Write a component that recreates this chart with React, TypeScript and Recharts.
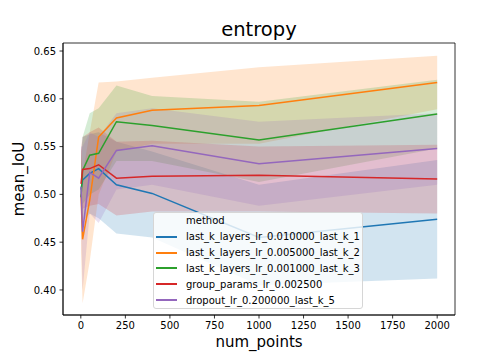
import {
  Area,
  ComposedChart,
  Label,
  Legend,
  Line,
  ReferenceArea,
  XAxis,
  YAxis,
} from "recharts";

const FONT = "DejaVu Sans, sans-serif";

const X_POINTS = [1, 10, 50, 100, 200, 400, 1000, 2000];
const X_TICKS = [0, 250, 500, 750, 1000, 1250, 1500, 1750, 2000];
const Y_TICKS = [0.4, 0.45, 0.5, 0.55, 0.6, 0.65];

// last_k_layers_lr_0.010000_last_k_1
const K1_MEAN = [0.505, 0.515, 0.522, 0.527, 0.51, 0.501, 0.455, 0.474];
const K1_LO = [0.47, 0.472, 0.48, 0.475, 0.459, 0.455, 0.405, 0.412];
const K1_HI = [0.545, 0.56, 0.563, 0.565, 0.555, 0.545, 0.51, 0.536];

// last_k_layers_lr_0.005000_last_k_2
const K2_MEAN = [0.5, 0.453, 0.494, 0.56, 0.58, 0.588, 0.593, 0.617];
const K2_LO = [0.44, 0.386, 0.43, 0.5, 0.545, 0.553, 0.553, 0.589];
const K2_HI = [0.56, 0.52, 0.565, 0.617, 0.618, 0.622, 0.633, 0.645];

// last_k_layers_lr_0.001000_last_k_3
const K3_MEAN = [0.497, 0.525, 0.541, 0.543, 0.576, 0.572, 0.557, 0.584];
const K3_LO = [0.47, 0.49, 0.5, 0.505, 0.535, 0.535, 0.513, 0.548];
const K3_HI = [0.53, 0.56, 0.585, 0.59, 0.614, 0.603, 0.597, 0.62];

// group_params_lr_0.002500
const GP_MEAN = [0.511, 0.526, 0.527, 0.531, 0.517, 0.519, 0.52, 0.516];
const GP_LO = [0.475, 0.485, 0.488, 0.49, 0.478, 0.482, 0.482, 0.48];
const GP_HI = [0.545, 0.56, 0.565, 0.57, 0.555, 0.556, 0.55, 0.552];

// dropout_lr_0.200000_last_k_5
const DO_MEAN = [0.508, 0.461, 0.523, 0.517, 0.546, 0.551, 0.532, 0.548];
const DO_LO = [0.47, 0.4, 0.48, 0.47, 0.505, 0.51, 0.488, 0.51];
const DO_HI = [0.55, 0.55, 0.565, 0.56, 0.585, 0.59, 0.576, 0.585];

const SERIES = [
  { key: "k1", name: "last_k_layers_lr_0.010000_last_k_1", color: "#1f77b4", mean: K1_MEAN, lo: K1_LO, hi: K1_HI },
  { key: "k2", name: "last_k_layers_lr_0.005000_last_k_2", color: "#ff7f0e", mean: K2_MEAN, lo: K2_LO, hi: K2_HI },
  { key: "k3", name: "last_k_layers_lr_0.001000_last_k_3", color: "#2ca02c", mean: K3_MEAN, lo: K3_LO, hi: K3_HI },
  { key: "gp", name: "group_params_lr_0.002500", color: "#d62728", mean: GP_MEAN, lo: GP_LO, hi: GP_HI },
  { key: "do", name: "dropout_lr_0.200000_last_k_5", color: "#9467bd", mean: DO_MEAN, lo: DO_LO, hi: DO_HI },
];

const data = X_POINTS.map((x, i) => {
  const row: Record<string, number | [number, number]> = { x };
  SERIES.forEach((s) => {
    row[s.key] = s.mean[i];
    row[s.key + "Band"] = [s.lo[i], s.hi[i]];
  });
  return row;
});

const X_DOMAIN: [number, number] = [-100, 2100];
const Y_DOMAIN: [number, number] = [0.3738, 0.6584];

const tickStyle = { fontSize: 10, fill: "#000", fontFamily: FONT };

/** seaborn-style legend: "method" header row, then one line handle per series. */
function MethodLegend() {
  const row = { height: 15.85, display: "flex", alignItems: "center" } as const;
  return (
    <div
      style={{
        boxSizing: "border-box",
        width: 210,
        height: 97,
        border: "1px solid #d6d6d6",
        borderRadius: 3,
        background: "rgba(255,255,255,0.8)",
        fontFamily: FONT,
        fontSize: 10,
        color: "#000",
        paddingTop: 0,
      }}
    >
      <div style={row}>
        <span style={{ marginLeft: 32 }}>method</span>
      </div>
      {SERIES.map((s) => (
        <div key={s.key} style={row}>
          <span style={{ display: "inline-block", marginLeft: 2, width: 21, height: 2, background: s.color }} />
          <span style={{ marginLeft: 9, whiteSpace: "nowrap" }}>{s.name}</span>
        </div>
      ))}
    </div>
  );
}

export default function App() {
  return (
    <div style={{ position: "absolute", left: 0, top: 0, width: 504, height: 360, background: "#fff" }}>
      <div
        style={{
          position: "absolute",
          left: 63,
          width: 392,
          top: 20,
          textAlign: "center",
          fontFamily: FONT,
          fontSize: 19.5,
          lineHeight: 1,
          color: "#000",
        }}
      >
        entropy
      </div>
      <ComposedChart
        width={504}
        height={360}
        data={data}
        margin={{ top: 43, right: 49, bottom: 0, left: 0 }}
      >
        <XAxis
          dataKey="x"
          type="number"
          domain={X_DOMAIN}
          ticks={X_TICKS}
          allowDataOverflow
          height={45}
          tick={tickStyle}
          tickSize={3.5}
          tickMargin={3.5}
          tickLine={{ stroke: "#000", strokeWidth: 0.8 }}
          axisLine={{ stroke: "#000", strokeWidth: 0.8 }}
        >
          <Label value="num_points" position="insideBottom" offset={13} style={{ fontSize: 15, fill: "#000", fontFamily: FONT }} />
        </XAxis>
        <YAxis
          type="number"
          domain={Y_DOMAIN}
          ticks={Y_TICKS}
          allowDataOverflow
          width={63}
          tick={tickStyle}
          tickFormatter={(v: number) => v.toFixed(2)}
          tickSize={3.5}
          tickMargin={3.5}
          tickLine={{ stroke: "#000", strokeWidth: 0.8 }}
          axisLine={{ stroke: "#000", strokeWidth: 0.8 }}
        >
          <Label
            value="mean_IoU"
            angle={-90}
            position="insideLeft"
            offset={19}
            style={{ fontSize: 15, fill: "#000", fontFamily: FONT, textAnchor: "middle" }}
          />
        </YAxis>

        {SERIES.flatMap((s) => [
          <Area
            key={s.key + "Band"}
            type="linear"
            dataKey={s.key + "Band"}
            stroke="none"
            fill={s.color}
            fillOpacity={0.2}
            dot={false}
            activeDot={false}
            legendType="none"
            isAnimationActive={false}
          />,
          <Line
            key={s.key}
            type="linear"
            dataKey={s.key}
            name={s.name}
            stroke={s.color}
            strokeWidth={1.5}
            dot={false}
            activeDot={false}
            isAnimationActive={false}
          />,
        ])}

        {/* frame for the top and right spines */}
        <ReferenceArea
          x1={X_DOMAIN[0]}
          x2={X_DOMAIN[1]}
          y1={Y_DOMAIN[0]}
          y2={Y_DOMAIN[1]}
          fill="none"
          stroke="#000"
          strokeWidth={0.8}
        />

        <Legend
          layout="horizontal"
          verticalAlign="middle"
          align="center"
          content={() => <MethodLegend />}
          wrapperStyle={{ position: "absolute", left: 153, top: 212, width: 210 }}
        />
      </ComposedChart>
    </div>
  );
}
